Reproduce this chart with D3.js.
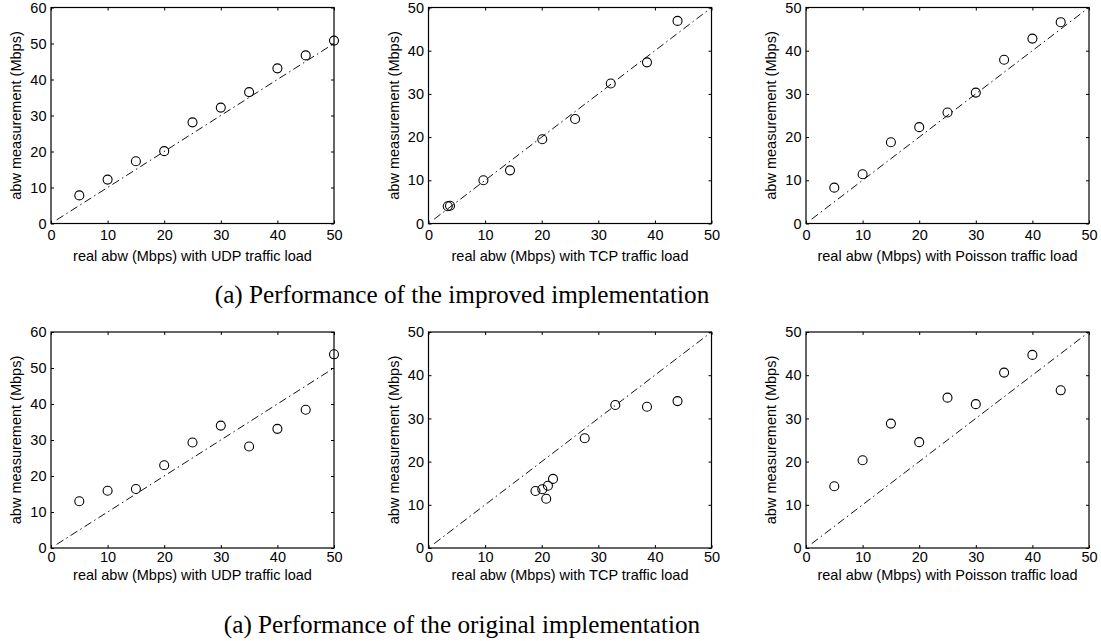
<!DOCTYPE html>
<html>
<head>
<meta charset="utf-8">
<script src="https://cdn.jsdelivr.net/npm/d3@7"></script>
<style>
  html, body { margin: 0; padding: 0; background: #fff; }
  svg { display: block; }
  .tick text { font-family: Arial, "Liberation Sans", Helvetica, sans-serif; font-size: 14.5px; fill: #000; }
  .axis-title { font-family: Arial, "Liberation Sans", Helvetica, sans-serif; font-size: 14.5px; fill: #000; }
  .caption { font-family: "Liberation Serif", "Times New Roman", Times, serif; font-size: 25.2px; fill: #000; }
</style>
</head>
<body>
<script>
// Real available bandwidth (x) and measured bandwidth (y), Mbps
const udpReal = [5, 10, 15, 20, 25, 30, 35, 40, 45, 50];
const udpImproved = [7.8, 12.2, 17.3, 20.1, 28.1, 32.2, 36.5, 43.1, 46.7, 50.8];
const udpOriginal = [13.0, 15.9, 16.4, 23.0, 29.3, 34.0, 28.2, 33.1, 38.4, 53.8];

const tcpRealImproved = [3.4, 3.8, 9.7, 14.4, 20.1, 25.9, 32.2, 38.6, 44.0];
const tcpImproved = [4.0, 4.1, 10.0, 12.3, 19.5, 24.2, 32.4, 37.3, 46.9];
const tcpRealOriginal = [18.9, 20.1, 21.1, 22.0, 20.8, 27.6, 33.0, 38.6, 44.0];
const tcpOriginal = [13.2, 13.6, 14.4, 16.0, 11.4, 25.4, 33.1, 32.7, 34.0];

const poissonReal = [5, 10, 15, 20, 25, 30, 35, 40, 45];
const poissonImproved = [8.3, 11.4, 18.8, 22.3, 25.7, 30.3, 37.9, 42.8, 46.6];
const poissonOriginal = [14.3, 20.3, 28.8, 24.5, 34.8, 33.3, 40.6, 44.7, 36.5];

// Reference line y = x
const refLine = [1, 50];

const xTicks = [0, 10, 20, 30, 40, 50];
const yTicksUdp = [0, 10, 20, 30, 40, 50, 60];
const yTicks = [0, 10, 20, 30, 40, 50];

const xTitles = [
  "real abw (Mbps) with UDP traffic load",
  "real abw (Mbps) with TCP traffic load",
  "real abw (Mbps) with Poisson traffic load"
];
const yTitle = "abw measurement (Mbps)";
const captions = [
  "(a) Performance of the improved implementation",
  "(a) Performance of the original implementation"
];

const svg = d3.select("body").append("svg")
  .attr("width", 1101).attr("height", 641);
svg.append("rect").attr("width", 1101).attr("height", 641).attr("fill", "#fff");

const lefts = [51, 428.5, 806];
const W = 283;
const rows = [
  { top: 7.5, bottom: 223.5, tickPad: 6, titleDy: 37.5, captionY: 303 },
  { top: 332, bottom: 548, tickPad: 4, titleDy: 32, captionY: 633 }
];

const panels = [
  { row: 0, col: 0, xs: udpReal, ys: udpImproved, yMax: 60, yt: yTicksUdp },
  { row: 0, col: 1, xs: tcpRealImproved, ys: tcpImproved, yMax: 50, yt: yTicks },
  { row: 0, col: 2, xs: poissonReal, ys: poissonImproved, yMax: 50, yt: yTicks },
  { row: 1, col: 0, xs: udpReal, ys: udpOriginal, yMax: 60, yt: yTicksUdp },
  { row: 1, col: 1, xs: tcpRealOriginal, ys: tcpOriginal, yMax: 50, yt: yTicks },
  { row: 1, col: 2, xs: poissonReal, ys: poissonOriginal, yMax: 50, yt: yTicks }
];

panels.forEach(p => {
  const r = rows[p.row];
  const H = r.bottom - r.top;
  const g = svg.append("g").attr("transform", `translate(${lefts[p.col]},${r.top})`);
  const x = d3.scaleLinear().domain([0, 50]).range([0, W]);
  const y = d3.scaleLinear().domain([0, p.yMax]).range([H, 0]);

  // dash-dot reference line
  g.append("path")
    .datum(refLine)
    .attr("d", d3.line().x(d => x(d)).y(d => y(d)))
    .attr("fill", "none")
    .attr("stroke", "#111")
    .attr("stroke-width", 1)
    .attr("stroke-dasharray", "8,3.5,1.5,3.5");

  // markers
  g.selectAll("circle.pt")
    .data(p.xs.map((v, i) => [v, p.ys[i]]))
    .join("circle")
    .attr("class", "pt")
    .attr("cx", d => x(d[0]))
    .attr("cy", d => y(d[1]))
    .attr("r", 4.5)
    .attr("fill", "none")
    .attr("stroke", "#000")
    .attr("stroke-width", 1.1);

  // axes with inward ticks on all four sides
  const bottomAx = g.append("g").attr("transform", `translate(0,${H})`)
    .call(d3.axisBottom(x).tickValues(xTicks).tickSize(-3).tickPadding(r.tickPad).tickFormat(d3.format("d")));
  const leftAx = g.append("g")
    .call(d3.axisLeft(y).tickValues(p.yt).tickSize(-3).tickPadding(4.5).tickFormat(d3.format("d")));
  const topAx = g.append("g")
    .call(d3.axisTop(x).tickValues(xTicks).tickSize(-3).tickFormat(""));
  const rightAx = g.append("g").attr("transform", `translate(${W},0)`)
    .call(d3.axisRight(y).tickValues(p.yt).tickSize(-3).tickFormat(""));
  [bottomAx, leftAx, topAx, rightAx].forEach(a => {
    a.select(".domain").remove();
    a.selectAll(".tick line").attr("stroke", "#000");
  });

  // frame
  g.append("rect")
    .attr("x", 0).attr("y", 0).attr("width", W).attr("height", H)
    .attr("fill", "none").attr("stroke", "#000").attr("stroke-width", 1.2);

  // titles
  g.append("text").attr("class", "axis-title")
    .attr("x", W / 2).attr("y", H + r.titleDy)
    .attr("text-anchor", "middle")
    .text(xTitles[p.col]);
  g.append("text").attr("class", "axis-title")
    .attr("transform", `translate(-35,${H / 2}) rotate(-90)`)
    .attr("text-anchor", "middle")
    .attr("dy", "0.35em")
    .text(yTitle);
});

rows.forEach((r, i) => {
  svg.append("text").attr("class", "caption")
    .attr("x", 462).attr("y", r.captionY)
    .attr("text-anchor", "middle")
    .text(captions[i]);
});
</script>
</body>
</html>
